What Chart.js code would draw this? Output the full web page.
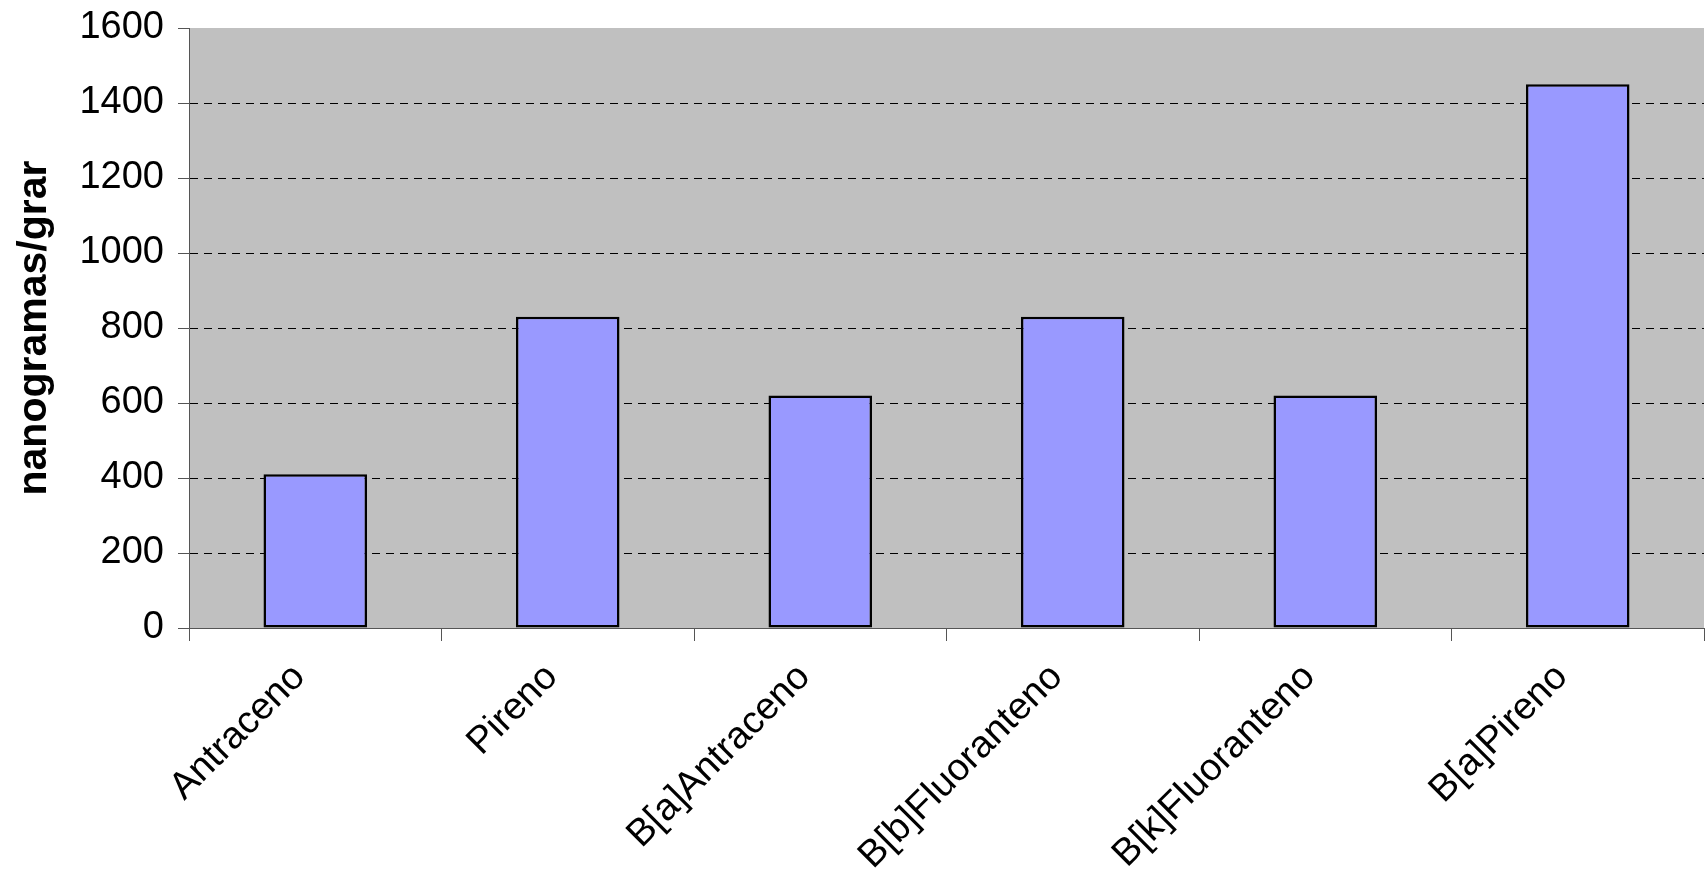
<!DOCTYPE html>
<html>
<head>
<meta charset="utf-8">
<script src="https://cdn.jsdelivr.net/npm/chart.js@4/dist/chart.umd.min.js"></script>
<style>
  html, body { margin: 0; padding: 0; background: #fff; }
  #wrap { width: 1705px; height: 874px; }
</style>
</head>
<body>
<div id="wrap"><canvas id="c" width="1705" height="874"></canvas></div>
<script>
// ===== datos =====
const categories = ['Antraceno', 'Pireno', 'B[a]Antraceno', 'B[b]Fluoranteno', 'B[k]Fluoranteno', 'B[a]Pireno'];
const valores = [410, 830, 620, 830, 620, 1450];
const yTicks = [0, 200, 400, 600, 800, 1000, 1200, 1400, 1600];
const yTitle = 'nanogramas/grar';

// fondo gris del área de trazado
const plotBg = {
  id: 'plotBg',
  beforeDraw(chart) {
    const { ctx, chartArea: a } = chart;
    ctx.save();
    ctx.fillStyle = '#C0C0C0';
    ctx.fillRect(a.left, a.top, a.right - a.left, a.bottom - a.top);
    ctx.restore();
  }
};

const ctx = document.getElementById('c').getContext('2d');
new Chart(ctx, {
  type: 'bar',
  data: {
    labels: categories,
    datasets: [{
      data: valores,
      backgroundColor: '#9999FF',
      borderColor: '#000',
      borderWidth: 2.5,
      borderSkipped: false,
      categoryPercentage: 1,
      barPercentage: 0.41
    }]
  },
  options: {
    responsive: false,
    animation: false,
    layout: { padding: { top: 28, right: 1, left: 0, bottom: 0 } },
    plugins: { legend: { display: false }, tooltip: { enabled: false } },
    scales: {
      x: {
        grid: { offset: true, drawOnChartArea: false, tickLength: 13, color: '#555' },
        border: { color: '#555', width: 1 },
        ticks: {
          color: '#000', font: { family: 'Liberation Sans, Arial', size: 38 },
          minRotation: 45, maxRotation: 45, padding: 14, labelOffset: -16
        },
        afterFit(s) { s.height = 246; s.paddingLeft = 0; s.paddingRight = 0; }
      },
      y: {
        min: 0, max: 1600,
        afterBuildTicks(s) { s.ticks = yTicks.map(v => ({ value: v })); },
        grid: {
          color: c => (c.tick && (c.tick.value === 0 || c.tick.value === 1600)) ? 'rgba(0,0,0,0)' : '#000',
          tickColor: '#555',
          tickBorderDash: [],
          tickLength: 11,
          lineWidth: 1
        },
        border: { color: '#555', width: 1, dash: [8, 6] },
        ticks: {
          color: '#000', font: { family: 'Liberation Sans, Arial', size: 38 }, padding: 14,
          callback: v => String(v)
        },
        title: {
          display: true, text: yTitle, color: '#000',
          font: { family: 'Liberation Sans, Arial', size: 41, weight: 'bold' },
          padding: { top: 10, bottom: 0 }
        },
        afterFit(s) { s.width = 189; s.paddingTop = 0; s.paddingBottom = 0; }
      }
    }
  },
  plugins: [plotBg]
});
</script>
</body>
</html>
